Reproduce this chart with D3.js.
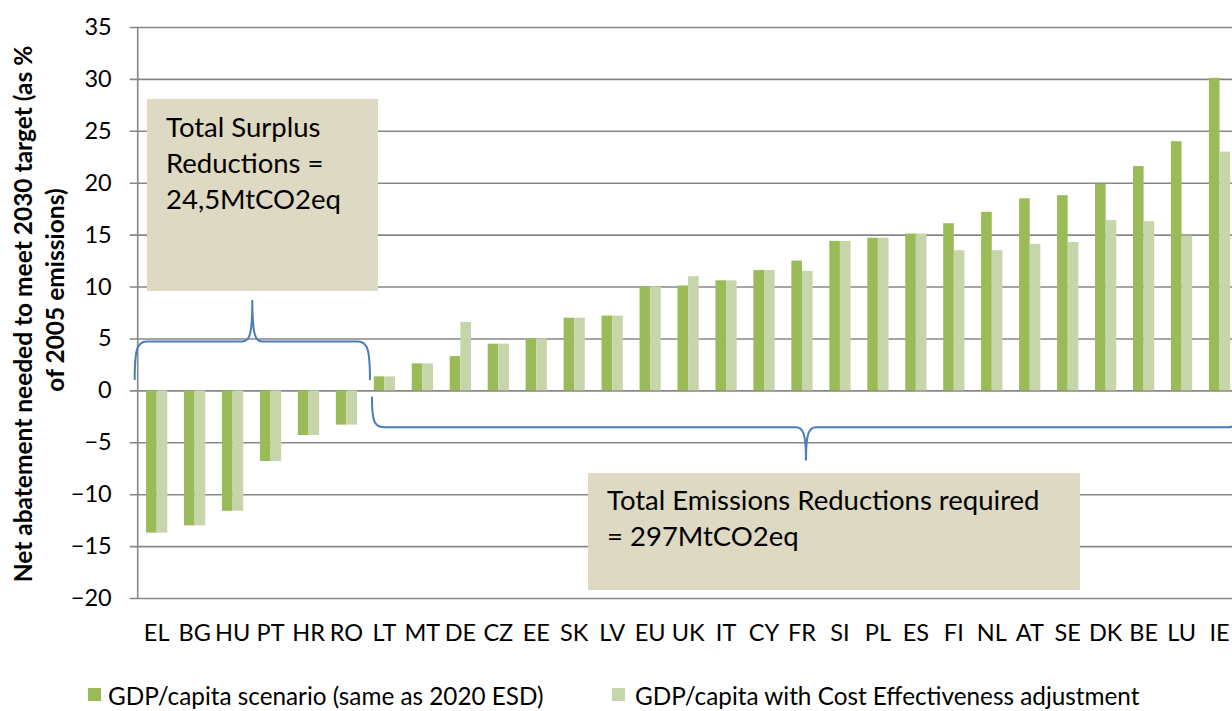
<!DOCTYPE html>
<html>
<head>
<meta charset="utf-8">
<script src="https://cdn.jsdelivr.net/npm/d3@7"></script>
<style>
  html, body { margin: 0; padding: 0; background: #fff; }
  svg { display: block; font-family: Lato, "Open Sans", sans-serif; }
</style>
</head>
<body>
<div id="chart"></div>
<script>
// countries, sorted by abatement needed
var categories = ["EL", "BG", "HU", "PT", "HR", "RO", "LT", "MT", "DE", "CZ",
                  "EE", "SK", "LV", "EU", "UK", "IT", "CY", "FR", "SI", "PL",
                  "ES", "FI", "NL", "AT", "SE", "DK", "BE", "LU", "IE"];

var gdpScenario = [-13.7, -13.0, -11.6, -6.8, -4.3, -3.3, 1.35, 2.6, 3.3, 4.5,
                   5.0, 7.0, 7.2, 10.0, 10.1, 10.6, 11.6, 12.5, 14.4, 14.7,
                   15.1, 16.1, 17.2, 18.5, 18.8, 19.9, 21.6, 24.0, 30.1];

var costEffective = [-13.7, -13.0, -11.6, -6.8, -4.3, -3.3, 1.35, 2.6, 6.6, 4.5,
                     5.0, 7.0, 7.2, 10.0, 11.0, 10.6, 11.6, 11.5, 14.4, 14.7,
                     15.1, 13.5, 13.5, 14.1, 14.3, 16.4, 16.3, 14.9, 23.0];

var seriesNames = ["GDP/capita scenario (same as 2020 ESD)",
                   "GDP/capita with Cost Effectiveness adjustment"];
var seriesColors = ["#9bbb59", "#c7d6aa"];

var yTicks = [-20, -15, -10, -5, 0, 5, 10, 15, 20, 25, 30, 35];

var yTitle = ["Net abatement needed to meet 2030 target (as %", "of 2005 emissions)"];

var surplusText = ["Total Surplus", "Reductions =", "24,5MtCO2eq"];
var requiredText = ["Total Emissions Reductions required", "= 297MtCO2eq"];

var W = 1232, H = 711;
var margin = {left: 137.7, top: 27};
var plotW = 1100.8, plotH = 571;

var svg = d3.select("#chart").append("svg")
  .attr("width", W)
  .attr("height", H);

var g = svg.append("g")
  .attr("transform", "translate(" + margin.left + "," + margin.top + ")");

var x = d3.scaleBand()
  .domain(categories)
  .range([0, plotW])
  .paddingInner(0.44)
  .paddingOuter(0.22);

var xSub = d3.scaleBand()
  .domain([0, 1])
  .range([0, x.bandwidth()]);

var y = d3.scaleLinear()
  .domain([-20, 35])
  .range([plotH, 0]);

// gridlines + y labels
var yAxis = g.append("g")
  .call(d3.axisLeft(y).tickValues(yTicks).tickSize(-plotW - 10).tickPadding(26).tickSizeOuter(0));
yAxis.select(".domain").remove();
yAxis.selectAll(".tick line")
  .attr("x1", -8)
  .attr("stroke", "#878787")
  .attr("stroke-width", 1.6);
yAxis.selectAll(".tick text")
  .attr("font-size", 23.5)
  .attr("fill", "#000")
  .attr("font-family", "Lato, sans-serif");

g.append("line")
  .attr("x1", 0).attr("x2", 0)
  .attr("y1", y(35)).attr("y2", y(-20))
  .attr("stroke", "#878787")
  .attr("stroke-width", 1.6);

// category labels
var xAxis = g.append("g")
  .attr("transform", "translate(0," + plotH + ")")
  .call(d3.axisBottom(x).tickSize(0).tickPadding(26));
xAxis.select(".domain").remove();
xAxis.selectAll(".tick text")
  .attr("font-size", 23.5)
  .attr("fill", "#000")
  .attr("font-family", "Lato, sans-serif");

// bars
var rows = categories.map(function(c, i) {
  return {cat: c, values: [gdpScenario[i], costEffective[i]]};
});

var groups = g.selectAll(".group")
  .data(rows)
  .enter()
  .append("g")
  .attr("class", "group")
  .attr("transform", function(d) { return "translate(" + x(d.cat) + ",0)"; });

groups.selectAll("rect")
  .data(function(d) { return d.values; })
  .enter()
  .append("rect")
  .attr("x", function(d, i) { return xSub(i); })
  .attr("width", xSub.bandwidth())
  .attr("y", function(d) { return y(Math.max(0, d)); })
  .attr("height", function(d) { return Math.abs(y(d) - y(0)); })
  .attr("fill", function(d, i) { return seriesColors[i]; });

// text boxes
function textBox(x0, y0, w, h, lines, tx, ty, lh) {
  svg.append("rect")
    .attr("x", x0).attr("y", y0)
    .attr("width", w).attr("height", h)
    .attr("fill", "#ddd9c3");
  svg.append("g").selectAll("text")
    .data(lines)
    .enter()
    .append("text")
    .attr("x", tx)
    .attr("y", function(d, i) { return ty + i * lh; })
    .attr("font-size", 27.5)
    .attr("fill", "#000")
    .text(function(d) { return d; });
}
textBox(147, 99, 231, 192, surplusText, 166, 137, 36);
textBox(588, 473, 492, 117, requiredText, 607, 510, 36);

// curly braces
var blue = "#4a7ebb";
var b1x0 = x("EL") - x.step() * 0.22 - 3,
    b1x1 = x("RO") + x.bandwidth() + x.step() * 0.22 + 4.5,
    b1mid = (b1x0 + b1x1) / 2;
var b1 = d3.path();
b1.moveTo(b1x0, y(1));
b1.bezierCurveTo(b1x0, y(3.8), b1x0 + 2, y(4.7), b1x0 + 12, y(4.7));
b1.lineTo(b1mid - 10, y(4.7));
b1.bezierCurveTo(b1mid - 3, y(4.7), b1mid, y(5.3), b1mid, y(8.7));
b1.bezierCurveTo(b1mid, y(5.3), b1mid + 3, y(4.7), b1mid + 10, y(4.7));
b1.lineTo(b1x1 - 12, y(4.7));
b1.bezierCurveTo(b1x1 - 2, y(4.7), b1x1, y(3.8), b1x1, y(1));
g.append("path")
  .attr("d", b1.toString())
  .attr("fill", "none")
  .attr("stroke", blue)
  .attr("stroke-width", 2);

var b2x0 = x("LT") - x.step() * 0.22 + 6.5,
    b2x1 = x("IE") + x.bandwidth() + x.step() * 0.22 + 1.5,
    b2mid = (b2x0 + b2x1) / 2;
var b2 = d3.path();
b2.moveTo(b2x0, y(-0.6));
b2.bezierCurveTo(b2x0, y(-2.9), b2x0 + 2, y(-3.55), b2x0 + 12, y(-3.55));
b2.lineTo(b2mid - 10, y(-3.55));
b2.bezierCurveTo(b2mid - 3, y(-3.55), b2mid, y(-4.1), b2mid, y(-6.75));
b2.bezierCurveTo(b2mid, y(-4.1), b2mid + 3, y(-3.55), b2mid + 10, y(-3.55));
b2.lineTo(b2x1 - 12, y(-3.55));
b2.bezierCurveTo(b2x1 - 2, y(-3.55), b2x1, y(-2.9), b2x1, y(-0.6));
g.append("path")
  .attr("d", b2.toString())
  .attr("fill", "none")
  .attr("stroke", blue)
  .attr("stroke-width", 2);

// y axis title
var titleY = [314, 290], titleX = [32, 64];
svg.selectAll(".ytitle")
  .data(yTitle)
  .enter()
  .append("text")
  .attr("class", "ytitle")
  .attr("transform", function(d, i) { return "translate(" + titleX[i] + "," + titleY[i] + ") rotate(-90)"; })
  .attr("text-anchor", "middle")
  .attr("font-size", 24.5)
  .attr("font-weight", "bold")
  .attr("fill", "#000")
  .text(function(d) { return d; });

// legend
var legendX = [88, 612];
var legend = svg.selectAll(".legend")
  .data(seriesNames)
  .enter()
  .append("g")
  .attr("class", "legend")
  .attr("transform", function(d, i) { return "translate(" + legendX[i] + ",688)"; });
legend.append("rect")
  .attr("width", 13).attr("height", 13)
  .attr("fill", function(d, i) { return seriesColors[i]; });
legend.append("text")
  .attr("x", function(d, i) { return i === 0 ? 20 : 23; })
  .attr("y", 17)
  .attr("font-size", 24.3)
  .attr("fill", "#000")
  .text(function(d) { return d; });
</script>
</body>
</html>
